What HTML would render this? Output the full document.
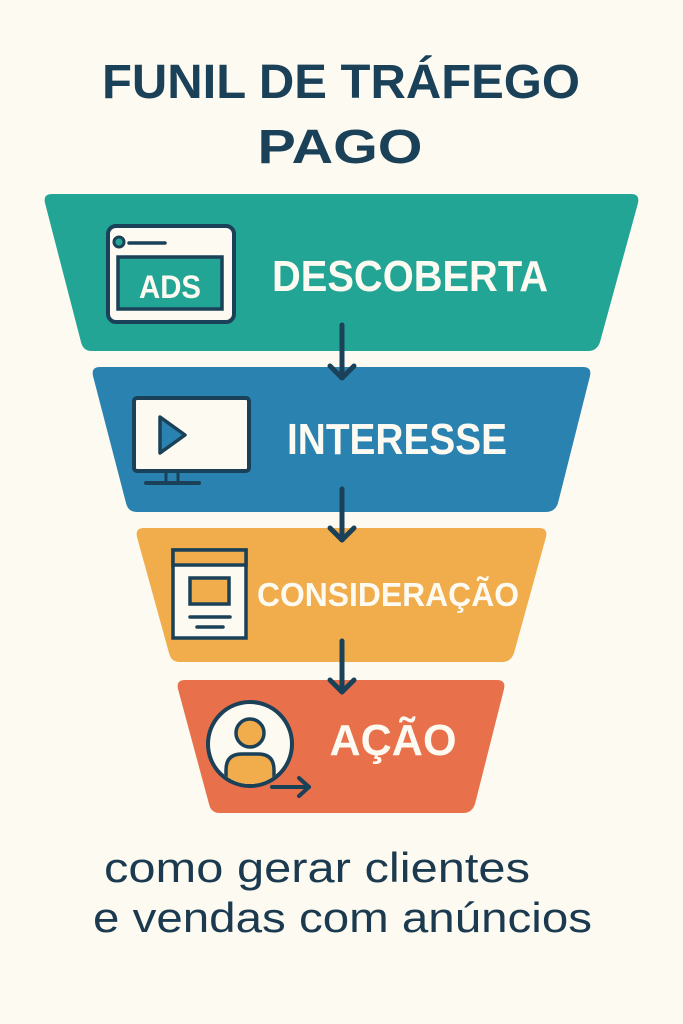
<!DOCTYPE html>
<html><head><meta charset="utf-8"><style>
html,body{margin:0;padding:0;background:#fcfaf1;}
svg{display:block}
text{font-family:"Liberation Sans",sans-serif;}
</style></head><body>
<svg width="683" height="1024" viewBox="0 0 683 1024">
<rect width="683" height="1024" fill="#fcfaf1"/>
<text x="341" y="98" text-anchor="middle" font-size="48" font-weight="bold" fill="#1b4159" textLength="478" lengthAdjust="spacingAndGlyphs">FUNIL DE TRÁFEGO</text>
<text x="340" y="163" text-anchor="middle" font-size="48" font-weight="bold" fill="#1b4159" textLength="165" lengthAdjust="spacingAndGlyphs">PAGO</text>

<g stroke-linejoin="round">
<path d="M52 194 L631 194 Q640 194 638 203 L600 342 Q597 351 588 351 L92 351 Q83 351 81 342 L45 203 Q43 194 52 194Z" fill="#23a595"/>
<path d="M100 367 L583 367 Q592 367 590 376 L558 503 Q555 512 546 512 L137 512 Q128 512 126 503 L93 376 Q91 367 100 367Z" fill="#2a82b1"/>
<path d="M144 528 L539 528 Q548 528 546 537 L514 653 Q511 662 502 662 L180 662 Q171 662 169 653 L137 537 Q135 528 144 528Z" fill="#f1ac4b"/>
<path d="M185 680 L497 680 Q506 680 504 689 L475 804 Q472 813 463 813 L220 813 Q211 813 209 804 L178 689 Q176 680 185 680Z" fill="#e8704b"/>
</g>

<g stroke="#1b4159" stroke-width="5" fill="none" stroke-linecap="round" stroke-linejoin="round">
<line x1="342" y1="325" x2="342" y2="378"/><polyline points="330,366 342,378 354,366"/>
<line x1="342" y1="489" x2="342" y2="540"/><polyline points="330,528 342,540 354,528"/>
<line x1="342" y1="641" x2="342" y2="692"/><polyline points="330,680 342,692 354,680"/>
</g>

<rect x="108" y="226" width="126" height="96" rx="8" fill="#fcfaf1" stroke="#1b4159" stroke-width="4"/>
<circle cx="119" cy="242" r="5" fill="#23a595" stroke="#1b4159" stroke-width="3"/>
<line x1="129" y1="243" x2="165" y2="243" stroke="#1b4159" stroke-width="3.5" stroke-linecap="round"/>
<rect x="118" y="257" width="104" height="52" fill="#23a595" stroke="#1b4159" stroke-width="3.5"/>
<text x="170" y="298" text-anchor="middle" font-size="32" font-weight="bold" fill="#fcfaf1" textLength="62" lengthAdjust="spacingAndGlyphs">ADS</text>

<rect x="134" y="398" width="115" height="73" rx="3" fill="#fcfaf1" stroke="#1b4159" stroke-width="4"/>
<path d="M160 417 L185 435 L160 453Z" fill="#2a82b1" stroke="#1b4159" stroke-width="3.5" stroke-linejoin="round"/>
<path d="M166 471 L166 482 M178 471 L178 482" stroke="#1b4159" stroke-width="3"/>
<line x1="146" y1="483" x2="199" y2="483" stroke="#1b4159" stroke-width="4" stroke-linecap="round"/>

<rect x="173" y="550" width="73" height="88" fill="#fcfaf1" stroke="#1b4159" stroke-width="3.5"/>
<rect x="173" y="550" width="73" height="15" fill="#f1ac4b" stroke="#1b4159" stroke-width="3.5"/>
<rect x="190" y="578" width="39" height="26" fill="#f1ac4b" stroke="#1b4159" stroke-width="3.5"/>
<line x1="190" y1="617" x2="230" y2="617" stroke="#1b4159" stroke-width="3.5" stroke-linecap="round"/>
<line x1="197" y1="627" x2="223" y2="627" stroke="#1b4159" stroke-width="3.5" stroke-linecap="round"/>

<circle cx="250" cy="744" r="42" fill="#fcfaf1" stroke="#1b4159" stroke-width="4"/>
<clipPath id="c"><circle cx="250" cy="744" r="40"/></clipPath>
<path d="M226 790 L226 770 Q226 754 242 754 L258 754 Q274 754 274 770 L274 790Z" fill="#f1ac4b" stroke="#1b4159" stroke-width="3.5" clip-path="url(#c)"/>
<circle cx="250" cy="733" r="14" fill="#f1ac4b" stroke="#1b4159" stroke-width="3.5"/>
<line x1="272" y1="787" x2="309" y2="787" stroke="#1b4159" stroke-width="4" stroke-linecap="round"/>
<polyline points="299,778 309,787 299,796" fill="none" stroke="#1b4159" stroke-width="4" stroke-linecap="round" stroke-linejoin="round"/>

<text x="410" y="291" text-anchor="middle" font-size="44" font-weight="bold" fill="#fcfaf1" textLength="276" lengthAdjust="spacingAndGlyphs">DESCOBERTA</text>
<text x="397" y="454" text-anchor="middle" font-size="44" font-weight="bold" fill="#fcfaf1" textLength="220" lengthAdjust="spacingAndGlyphs">INTERESSE</text>
<text x="388" y="606" text-anchor="middle" font-size="33" font-weight="bold" fill="#fcfaf1" textLength="262" lengthAdjust="spacingAndGlyphs">CONSIDERAÇÃO</text>
<text x="393" y="755" text-anchor="middle" font-size="44" font-weight="bold" fill="#fcfaf1" textLength="127" lengthAdjust="spacingAndGlyphs">AÇÃO</text>

<text x="104" y="882" font-size="42" fill="#1b3a4f" textLength="426" lengthAdjust="spacingAndGlyphs">como gerar clientes</text>
<text x="93" y="932" font-size="42" fill="#1b3a4f" textLength="499" lengthAdjust="spacingAndGlyphs">e vendas com anúncios</text>
</svg>
</body></html>
